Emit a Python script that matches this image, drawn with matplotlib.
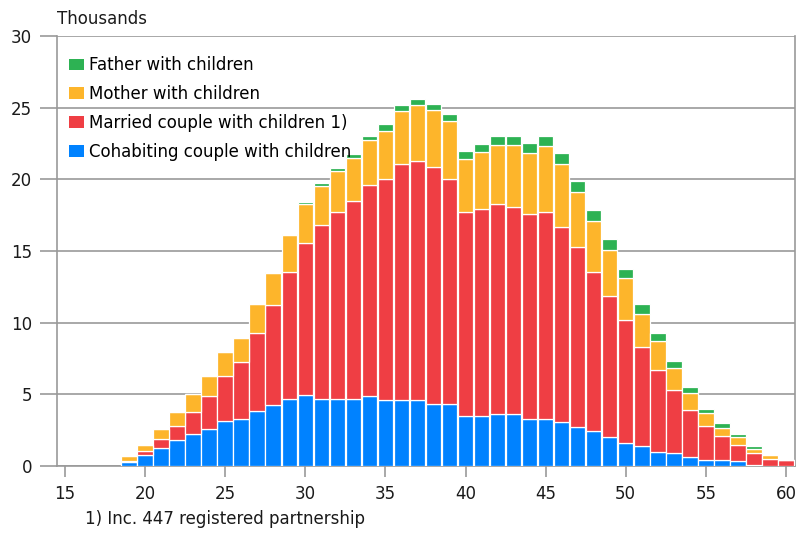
import numpy as np
import matplotlib.pyplot as plt
from matplotlib.patches import Patch

# Age of the parent
ages = np.arange(19, 61)

# Thousands of families
cohabiting = [0.3, 0.75, 1.25, 1.8, 2.25, 2.6, 3.15, 3.25, 3.85, 4.25,
              4.7, 4.95, 4.7, 4.7, 4.7, 4.85, 4.6, 4.6, 4.6, 4.35,
              4.35, 3.5, 3.5, 3.6, 3.6, 3.3, 3.3, 3.05, 2.7, 2.45,
              2.05, 1.6, 1.4, 1.0, 0.9, 0.65, 0.45, 0.45, 0.35, 0.05,
              0.0, 0.0]
married = [0.05, 0.3, 0.65, 1.0, 1.55, 2.25, 3.1, 4.0, 5.45, 6.95,
           8.85, 10.6, 12.1, 13.0, 13.8, 14.75, 15.45, 16.45, 16.7, 16.5,
           15.65, 14.2, 14.45, 14.65, 14.45, 14.3, 14.4, 13.65, 12.55, 11.05,
           9.8, 8.6, 6.9, 5.7, 4.4, 3.25, 2.35, 1.65, 1.1, 0.85,
           0.5, 0.4]
mother = [0.35, 0.45, 0.65, 1.0, 1.2, 1.4, 1.7, 1.7, 2.0, 2.25,
          2.55, 2.7, 2.75, 2.9, 3.0, 3.15, 3.35, 3.7, 3.9, 4.0,
          4.1, 3.75, 3.95, 4.15, 4.35, 4.25, 4.6, 4.35, 3.9, 3.6,
          3.25, 2.9, 2.3, 2.0, 1.55, 1.2, 0.9, 0.55, 0.55, 0.3,
          0.25, 0.0]
father = [0.0, 0.0, 0.0, 0.0, 0.0, 0.0, 0.0, 0.0, 0.03, 0.05,
          0.12, 0.18, 0.2, 0.2, 0.3, 0.3, 0.45, 0.4, 0.4, 0.4,
          0.45, 0.55, 0.55, 0.65, 0.65, 0.7, 0.75, 0.8, 0.75, 0.75,
          0.75, 0.65, 0.7, 0.55, 0.45, 0.4, 0.3, 0.35, 0.25, 0.2,
          0.02, 0.0]

series = [
    ("Cohabiting couple with children", cohabiting, "#0082FF"),
    ("Married couple with children 1)", married, "#EF3E44"),
    ("Mother with children", mother, "#FDB52B"),
    ("Father with children", father, "#2DB253"),
]

fig = plt.figure(figsize=(7.98, 5.33), dpi=100)
ax = fig.add_axes([0.0714, 0.1257, 0.9245, 0.8068])

bottom = np.zeros(len(ages))
for name, vals, col in series:
    vals = np.array(vals)
    ax.bar(ages, vals, bottom=bottom, width=0.97, color=col,
           edgecolor="white", linewidth=0.9, zorder=3)
    bottom += vals

ax.set_xlim(14.5, 60.55)
ax.set_ylim(0, 30)
ax.set_xticks(np.arange(15, 61, 5))
ax.set_yticks(np.arange(0, 31, 5))
ax.grid(axis="y", color="#999999", linewidth=1.2, zorder=0)
ax.set_axisbelow(True)

for side in ["left", "bottom", "right"]:
    ax.spines[side].set_color("#999999")
    ax.spines[side].set_linewidth(1.2)
ax.spines["top"].set_visible(False)
ax.tick_params(axis="x", colors="#999999", length=8, width=1.2,
               labelcolor="#1a1a1a", labelsize=12, pad=6)
ax.tick_params(axis="y", colors="#999999", length=12, width=1.2,
               labelcolor="#1a1a1a", labelsize=12, pad=6)

handles = [Patch(facecolor=c, edgecolor="none", label=n) for n, v, c in series[::-1]]
ax.legend(handles=handles, loc="upper left", frameon=False, fontsize=12,
          handlelength=0.9, handleheight=0.7, handletextpad=0.3,
          labelspacing=0.65, borderaxespad=0.3, bbox_to_anchor=(0.0, 0.98))

fig.text(0.0714, 0.965, "Thousands", fontsize=12, color="#1a1a1a", va="center")
fig.text(0.107, 0.027, "1) Inc. 447 registered partnership", fontsize=12,
         color="#1a1a1a", va="center")

fig.savefig("out.png", dpi=100)
